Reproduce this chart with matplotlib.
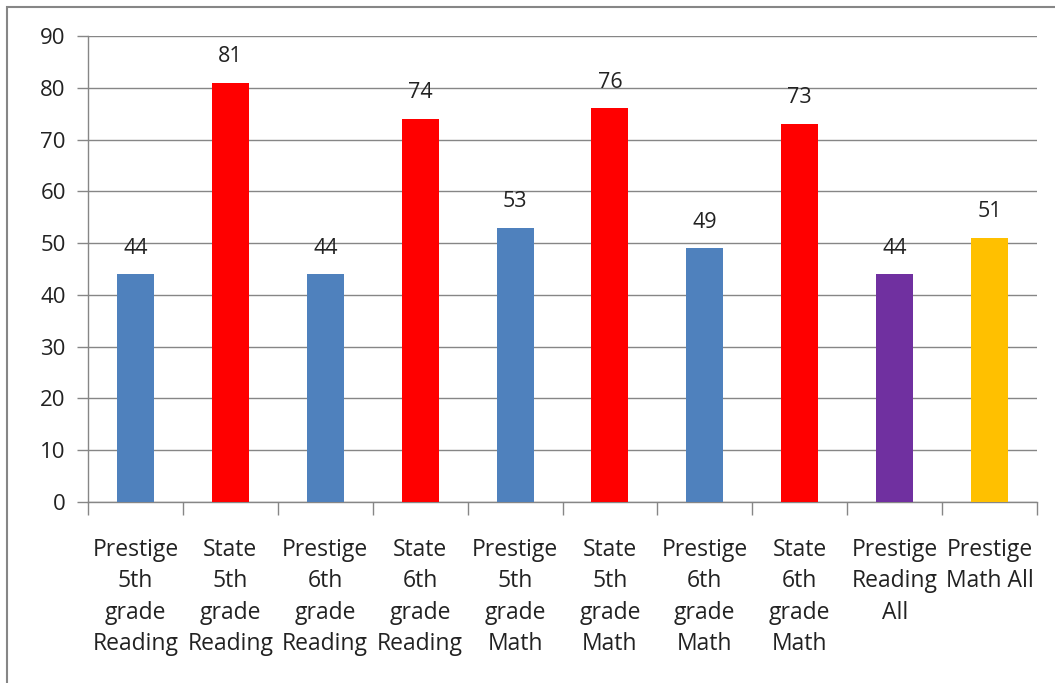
#!/usr/bin/env python3

import matplotlib
matplotlib.use("Agg")
import matplotlib.pyplot as plt
from matplotlib.patches import Rectangle


categories = [
    "Prestige\n5th\ngrade\nReading",
    "State\n5th\ngrade\nReading",
    "Prestige\n6th\ngrade\nReading",
    "State\n6th\ngrade\nReading",
    "Prestige\n5th\ngrade\nMath",
    "State\n5th\ngrade\nMath",
    "Prestige\n6th\ngrade\nMath",
    "State\n6th\ngrade\nMath",
    "Prestige\nReading\nAll",
    "Prestige\nMath All",
]
scores = [44, 81, 44, 74, 53, 76, 49, 73, 44, 51]
bar_colors = ["#4f81bd", "#ff0000", "#4f81bd", "#ff0000", "#4f81bd",
              "#ff0000", "#4f81bd", "#ff0000", "#7030a0", "#ffc000"]
y_ticks = [0, 10, 20, 30, 40, 50, 60, 70, 80, 90]

plt.rcParams["font.family"] = ["Open Sans", "DejaVu Sans"]

fig = plt.figure(figsize=(10.55, 6.83), dpi=100)
ax = fig.add_axes([88 / 1055, 1 - 502 / 683, (1037 - 88) / 1055, (502 - 36) / 683])

x = list(range(len(scores)))
ax.bar(x, scores, width=0.39, color=bar_colors, zorder=3)
for xi, v in zip(x, scores):
    ax.text(xi, v + 3.0, str(v), ha="center", va="bottom", fontsize=15.5, color="#222222")

ax.set_xlim(-0.5, len(scores) - 0.5)
ax.set_ylim(0, 90)
ax.set_yticks(y_ticks)
ax.yaxis.grid(True, color="#868686", linewidth=1, zorder=0)
ax.set_axisbelow(True)

# ticks sit between categories, labels centred under bars
ax.set_xticks([i - 0.5 for i in range(len(scores) + 1)])
ax.set_xticklabels([])
ax.set_xticks(x, minor=True)
ax.set_xticklabels(categories, minor=True, fontsize=16.5, color="#222222", linespacing=1.4)
ax.tick_params(axis="x", which="minor", length=0, pad=26)
ax.tick_params(axis="x", which="major", length=9, color="#868686", width=1)
ax.tick_params(axis="y", length=8, color="#868686", width=1, labelsize=16,
               labelcolor="#222222", pad=8)

for side in ["top", "right"]:
    ax.spines[side].set_visible(False)
for side in ["left", "bottom"]:
    ax.spines[side].set_color("#868686")
    ax.spines[side].set_linewidth(1)

fig.patches.append(Rectangle((7 / 1055, -0.01), 1.02, 1 - 7 / 683 + 0.01,
                             transform=fig.transFigure, fill=False,
                             edgecolor="#868686", linewidth=1.5))

fig.savefig("out.png", dpi=100)
